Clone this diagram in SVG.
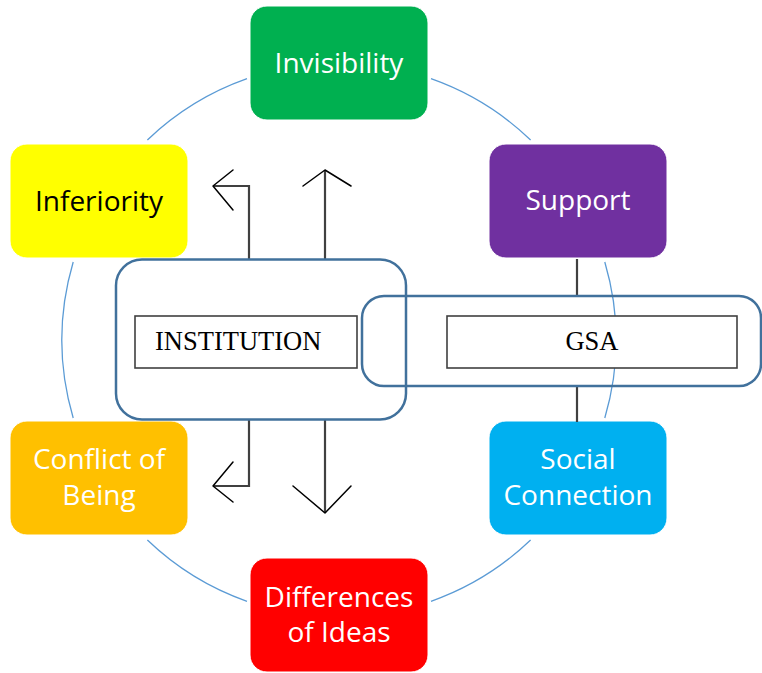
<svg xmlns="http://www.w3.org/2000/svg" width="762" height="673" viewBox="0 0 762 673">
<style>
.ring{fill:none;stroke:#5B9BD5;stroke-width:1.3}
.node rect{stroke:#ffffff;stroke-width:1}
.lbl{font-family:"Open Sans","Noto Sans",sans-serif;font-size:28px;fill:#ffffff;text-anchor:middle}
.dark{fill:#000000}
.outer{fill:none;stroke:#41719C;stroke-width:2.5}
.inner{fill:#ffffff;stroke:#404040;stroke-width:1.6}
.tnr{font-family:"Liberation Serif","Times New Roman",serif;font-size:26.5px;fill:#000000}
.stem{fill:none;stroke:#404040;stroke-width:2.2}
.head{fill:none;stroke:#000000;stroke-width:1.5;stroke-linecap:round;stroke-linejoin:round}
</style>
<g id="ring">
<path class="ring" d="M431,78.7 A277,277 0 0 1 530.6,140"/>
<path class="ring" d="M604.8,262 A277,277 0 0 1 604.8,418"/>
<path class="ring" d="M530.6,540 A277,277 0 0 1 431,601.3"/>
<path class="ring" d="M247,601.3 A277,277 0 0 1 147.4,540"/>
<path class="ring" d="M73.2,418 A277,277 0 0 1 73.2,262"/>
<path class="ring" d="M147.4,140 A277,277 0 0 1 247,78.7"/>
</g>
<g id="invisibility" class="node">
<rect x="250" y="6" width="178" height="114" rx="17" fill="#00B050"/>
<text class="lbl" x="339" y="73">Invisibility</text>
</g>
<g id="inferiority" class="node">
<rect x="10" y="144" width="178" height="114" rx="17" fill="#FFFF00"/>
<text class="lbl dark" x="99" y="211">Inferiority</text>
</g>
<g id="support" class="node">
<rect x="489" y="144" width="178" height="114" rx="17" fill="#7030A0"/>
<text class="lbl" x="578" y="210">Support</text>
</g>
<g id="social-connection" class="node">
<rect x="489" y="421" width="178" height="114" rx="17" fill="#00B0F0"/>
<text class="lbl"><tspan x="578" y="469">Social</tspan><tspan x="578" y="504.5">Connection</tspan></text>
</g>
<g id="conflict-of-being" class="node">
<rect x="10" y="421" width="178" height="114" rx="17" fill="#FFC000"/>
<text class="lbl"><tspan x="99" y="469">Conflict of</tspan><tspan x="99" y="504.5">Being</tspan></text>
</g>
<g id="differences-of-ideas" class="node">
<rect x="250" y="558" width="178" height="114" rx="17" fill="#FF0000"/>
<text class="lbl"><tspan x="339" y="607">Differences</tspan><tspan x="339" y="642">of Ideas</tspan></text>
</g>
<g id="connectors">
<path class="stem" d="M249,259 V186 H213"/>
<path class="head" d="M233,170 L213,186 L233,210"/>
<path class="stem" d="M325,259 V170"/>
<path class="head" d="M303,186 L325,170 L351,186"/>
<path class="stem" d="M249,420 V486 H213"/>
<path class="head" d="M233,462 L213,486 L233,502"/>
<path class="stem" d="M325,420 V513"/>
<path class="head" d="M293,486 L325,513 L351,486"/>
<path class="stem" d="M577,259 V296"/>
<path class="stem" d="M577,386 V422"/>
</g>
<g id="institution">
<rect class="outer" x="116" y="259.5" width="290" height="160" rx="26"/>
<rect class="inner" x="135" y="316" width="222" height="52"/>
<text class="tnr" x="155" y="350">INSTITUTION</text>
</g>
<g id="gsa">
<rect class="outer" x="362" y="296" width="399" height="90" rx="22"/>
<rect class="inner" x="447" y="316" width="290" height="52"/>
<text class="tnr" x="592" y="350" text-anchor="middle">GSA</text>
</g>
</svg>
